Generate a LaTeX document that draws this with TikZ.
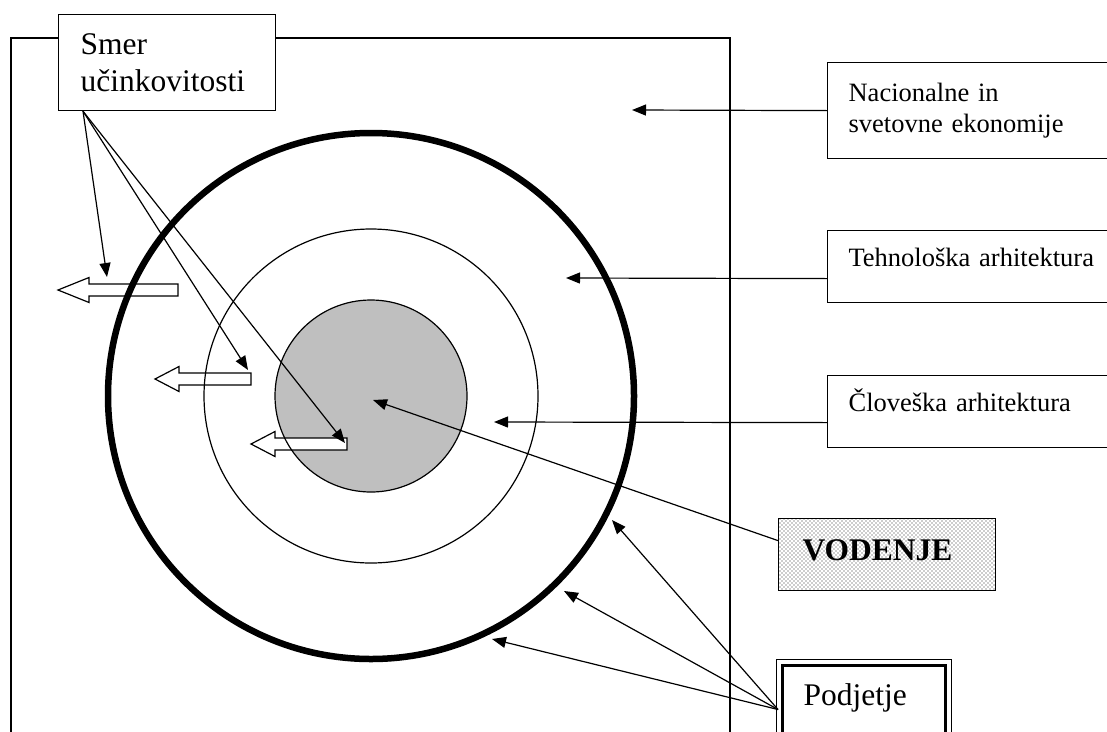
\documentclass[tikz,border=0pt]{standalone}
\usepackage{fontspec}
\setmainfont{Liberation Serif}
\usetikzlibrary{arrows.meta,patterns}

% fine stipple for the leadership box
\pgfdeclarepatternformonly{stipple}{\pgfqpoint{-1pt}{-1pt}}{\pgfqpoint{5pt}{5pt}}{\pgfqpoint{4pt}{4pt}}{%
  \pgfpathcircle{\pgfqpoint{0pt}{0pt}}{.55pt}%
  \pgfpathcircle{\pgfqpoint{2pt}{2pt}}{.55pt}%
  \pgfusepath{fill}}

\begin{document}
\begin{tikzpicture}[x=1pt,y=-1pt,line width=1.2pt,
    pointer/.style={-{Triangle[length=14pt,width=11pt]}},
    box/.style={draw, fill=white, anchor=north west, align=left},
    hollow/.style={draw, fill=white, line width=1.2pt},
    ring/.style={circle, draw, inner sep=0pt}]
    % Canvas is 1107 x 731 units, y runs downwards like the page.
    \useasboundingbox (0,0) rectangle (1107,731);
    \clip (0,0) rectangle (1107,731);

    % Frame of the company, open at the bottom.
    \draw[line width=1.4pt] (11,745) -- (11,38) -- (730,38) -- (730,745);

    % Rings: human core, technology, economy.
    \fill[black!25] (371,396) circle (96);
    \foreach \tx/\ty/\len/\hl in {178/290/120/31, 251/379/96/24, 347/444/96/24} {
      \draw[hollow] (\tx,\ty-6) -- (\tx-\len+\hl,\ty-6) -- (\tx-\len+\hl,\ty-12.5)
        -- (\tx-\len,\ty) -- (\tx-\len+\hl,\ty+12.5) -- (\tx-\len+\hl,\ty+6)
        -- (\tx,\ty+6) -- cycle;
    }
    \node[ring, line width=6.5pt, minimum size=526pt] (eco) at (371,396) {};
    \node[ring, minimum size=334pt] (teh) at (371,396) {};
    \node[ring, minimum size=192pt] (clo) at (371,396) {};

    % Labels on the right.
    \node[box, minimum width=300pt, minimum height=96pt, text width=258pt, inner xsep=21pt,
      font=\fontsize{26.5}{31}\selectfont] (nac) at (827,62) {Nacionalne in\\svetovne ekonomije};
    \node[box, minimum width=300pt, minimum height=72pt, text width=258pt, inner xsep=21pt,
      text height=18pt, text depth=18pt, font=\fontsize{26.5}{31}\selectfont] (tehb) at (827,230)
      {Tehnološka arhitektura};
    \node[box, minimum width=300pt, minimum height=72pt, text width=258pt, inner xsep=21pt,
      text height=18pt, text depth=18pt, font=\fontsize{26.5}{31}\selectfont] (clob) at (827,375)
      {Človeška arhitektura};

    \node[draw, pattern=stipple, pattern color=black!85, anchor=north west, align=left,
      minimum width=217pt, minimum height=72pt, text width=169pt, inner xsep=24pt,
      text height=23pt, text depth=11pt, font=\bfseries\fontsize{31.5}{36}\selectfont] (vod)
      at (778,518) {VODENJE};

    \node[box, line width=1pt, minimum width=175pt, minimum height=80pt, text width=121pt,
      inner xsep=27pt, text height=21pt, text depth=9pt,
      font=\fontsize{31.5}{37}\selectfont] (pod) at (776,659) {Podjetje};
    \draw[line width=3pt] ([xshift=6.5pt,yshift=-6.5pt]pod.north west)
      rectangle ([xshift=-6.5pt,yshift=6.5pt]pod.south east);

    \node[box, minimum width=217pt, minimum height=96pt, text width=173pt, inner xsep=22pt,
      font=\fontsize{31.5}{37}\selectfont] (smer) at (58,14) {Smer\\učinkovitosti};

    % Where the arrows end.
    \coordinate (s1) at (107,277);
    \coordinate (s2) at (248,370);
    \coordinate (s3) at (345,443);
    \coordinate (n1) at (632,110);
    \coordinate (n2) at (566,278);
    \coordinate (n3) at (494,422);
    \coordinate (v1) at (373,400);
    \coordinate (p1) at (612,520);
    \coordinate (p2) at (564,591);
    \coordinate (p3) at (492,639);

    \foreach \t in {s1,s2,s3}
      \draw[pointer] ([xshift=25pt]smer.south west) -- (\t);
    \draw[pointer] (nac.west) -- (n1);
    \draw[pointer] ([yshift=-12pt]tehb.west) -- (n2);
    \draw[pointer] ([yshift=-11pt]clob.west) -- (n3);
    \draw[pointer] ([yshift=14pt]vod.west) -- (v1);
    \foreach \t in {p1,p2,p3}
      \draw[pointer] ([xshift=2pt,yshift=-10pt]pod.west) -- (\t);
\end{tikzpicture}
\end{document}
